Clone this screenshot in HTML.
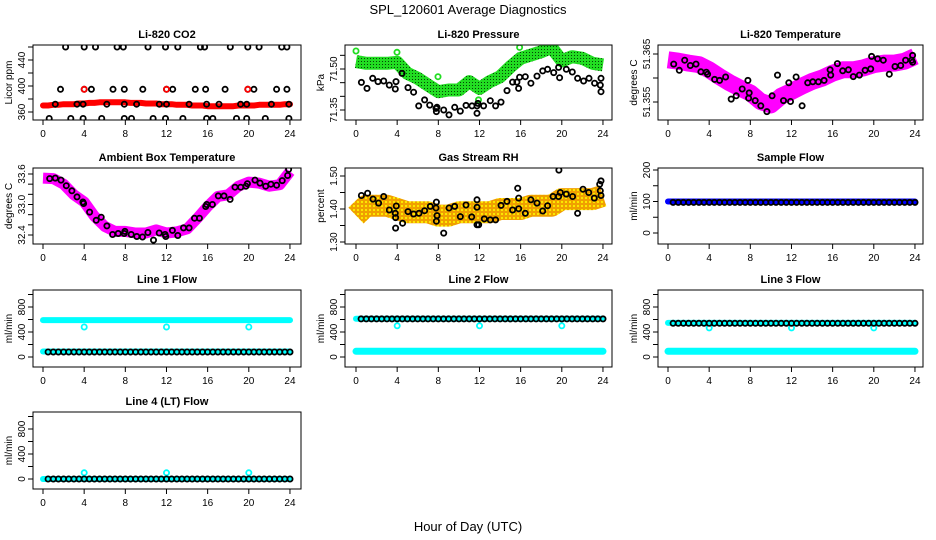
<!DOCTYPE html>
<html><head><meta charset="utf-8"><style>
html,body{margin:0;padding:0;background:#fff;}
svg{display:block;font-family:"Liberation Sans",Arial,sans-serif;}
</style></head><body>
<svg id="chart" width="936" height="540" viewBox="0 0 936 540" xmlns="http://www.w3.org/2000/svg">
<defs>
<pattern id="oyPat" width="4" height="4" patternUnits="userSpaceOnUse"><rect width="4" height="4" fill="#f0a000"/><circle cx="2" cy="2" r="1" fill="#ffff00"/></pattern>
<pattern id="gPat" width="3" height="3" patternUnits="userSpaceOnUse"><rect width="3" height="3" fill="#22dd22"/><rect x="1" y="1" width="1" height="1" fill="#064406"/></pattern>
</defs>
<text x="468" y="14" font-size="13" text-anchor="middle">SPL_120601  Average Diagnostics</text>
<text x="468" y="531" font-size="13" text-anchor="middle">Hour of Day (UTC)</text>
<g id="plots"></g>
</svg>
<script>
// ---------- data ----------
const xTicks=[0,4,8,12,16,20,24];
const halfHours=[0.5,1,1.5,2,2.5,3,3.5,4,4.5,5,5.5,6,6.5,7,7.5,8,8.5,9,9.5,10,10.5,11,11.5,12,12.5,13,13.5,14,14.5,15,15.5,16,16.5,17,17.5,18,18.5,19,19.5,20,20.5,21,21.5,22,22.5,23,23.5,24];
const bandHours=[0,0.5,1,1.5,2,2.5,3,3.5,4,4.5,5,5.5,6,6.5,7,7.5,8,8.5,9,9.5,10,10.5,11,11.5,12,12.5,13,13.5,14,14.5,15,15.5,16,16.5,17,17.5,18,18.5,19,19.5,20,20.5,21,21.5,22,22.5,23,23.5,24];
const hourly=[0,1,2,3,4,5,6,7,8,9,10,11,12,13,14,15,16,17,18,19,20,21,22,23,24];
const dipHours=[4,12,20];
const spanHours=[0,24];

// CO2
const co2Red=[370,370,371,371,372,372,372,373,373,374,374,375,375,375,375,375,375,374,374,374,373,373,373,372,372,372,371,371,371,370,370,370,369,369,369,369,369,369,370,370,370,370,371,371,371,371,371,372,372];
const co2BlackHours=[2.2,4.0,5.1,7.2,7.8,10.2,11.9,13.1,15.3,15.7,18.2,19.9,21.0,23.2,23.7, 1.7,4.0,4.7,6.8,7.9,9.7,12.0,12.6,14.8,15.8,17.7,19.9,20.5,22.7,23.7, 0.6,2.7,3.9,5.7,7.9,8.6,10.7,11.9,13.6,15.9,16.5,18.8,19.8,21.6,23.9, 1.2,3.3,3.9,6.2,7.9,9.1,11.3,12.0,14.2,15.9,17.1,19.2,19.8,22.2,23.9];
const co2BlackVals=[460,460,460,460,460,460,460,460,460,460,460,460,460,460,460, 395,395,395,395,395,395,395,395,395,395,395,395,395,395,395, 350,350,350,350,350,350,350,350,350,350,350,350,350,350,350, 372,372,372,372,372,372,372,372,372,372,372,372,372,372,372];
const co2RedPtHours=[4.0,12.0,19.9];
const co2RedPtVals=[395,395,395];

// Pressure
const presGreen=[71.527,71.521,71.521,71.521,71.524,71.484,71.466,71.441,71.417,71.423,71.423,71.454,71.429,71.454,71.472,71.508,71.539,71.551,71.563,71.579,71.530,71.545,71.539,71.521,71.515];
const presGreenPtHours=[0,3.98,7.97,15.9,11.9];
const presGreenPtVals=[71.566,71.561,71.472,71.579,71.387];
const presBlackHours=[0.52,1.07,1.62,2.14,2.69,3.24,3.82,3.89,4.47,5.05,5.6,6.09,6.67,7.16,7.77,7.81,7.87,8.52,9.04,9.59,10.14,10.69,11.27,11.76,11.76,11.85,12.4,13.05,13.57,14.09,14.67,15.22,15.64,15.8,15.9,16.45,17.0,17.59,18.14,18.62,19.21,19.69,19.79,20.44,21.02,21.54,22.12,22.64,23.19,23.74,23.81,23.81];
const presBlackVals=[71.451,71.429,71.466,71.454,71.456,71.441,71.427,71.454,71.484,71.432,71.415,71.365,71.387,71.368,71.356,71.344,71.360,71.350,71.332,71.360,71.346,71.367,71.365,71.365,71.338,71.374,71.365,71.384,71.365,71.379,71.421,71.452,71.452,71.429,71.470,71.472,71.448,71.474,71.493,71.499,71.487,71.506,71.468,71.499,71.489,71.466,71.456,71.466,71.448,71.441,71.466,71.417];

// Li-820 temperature
const ltMag=[51.3638,51.3635,51.3631,51.3628,51.3617,51.3603,51.3590,51.3579,51.3569,51.3551,51.3544,51.3562,51.3572,51.3583,51.3593,51.3600,51.3610,51.3617,51.3617,51.3621,51.3628,51.3631,51.3631,51.3635,51.3645];
const ltBlackHours=[0.55,1.10,1.62,2.17,2.72,3.20,3.72,3.85,4.53,5.01,5.60,6.14,6.63,7.21,7.76,7.83,7.89,8.47,9.02,9.61,10.12,10.64,11.22,11.74,11.90,12.45,13.03,13.58,14.07,14.62,15.17,15.75,15.81,16.46,16.98,17.53,18.01,18.60,19.15,19.70,19.79,20.37,20.92,21.51,22.06,22.61,23.09,23.67,23.77,23.77];
const ltBlackVals=[51.3629,51.3616,51.3637,51.3626,51.3629,51.3613,51.3612,51.3608,51.3597,51.3595,51.3602,51.3556,51.3563,51.3577,51.3595,51.3558,51.3569,51.3553,51.3542,51.3530,51.3563,51.3606,51.3553,51.3590,51.3551,51.3602,51.3542,51.3590,51.3592,51.3592,51.3595,51.3617,51.3606,51.3630,51.3615,51.3617,51.3603,51.3606,51.3616,51.3619,51.3645,51.3640,51.3637,51.3608,51.3624,51.3626,51.3637,51.3637,51.3647,51.3633];

// Ambient box temperature
const abMag=[33.52,33.51,33.40,33.19,33.05,32.77,32.57,32.47,32.47,32.44,32.44,32.50,32.44,32.46,32.52,32.73,32.96,33.16,33.19,33.36,33.44,33.42,33.36,33.39,33.65];
const abBlackHours=[0.65,1.20,1.75,2.26,2.81,3.30,3.88,3.95,4.53,5.17,5.66,6.21,6.76,7.31,7.89,7.96,8.57,9.12,9.67,10.19,10.74,11.29,11.87,11.93,12.58,13.10,13.65,14.20,14.72,15.20,15.81,15.91,16.46,17.04,17.59,18.18,18.66,19.21,19.73,19.86,20.60,21.09,21.64,22.15,22.70,23.25,23.77,23.87];
const abBlackVals=[33.51,33.52,33.48,33.37,33.27,33.15,33.05,33.02,32.85,32.69,32.75,32.58,32.41,32.43,32.43,32.47,32.41,32.37,32.36,32.45,32.30,32.44,32.41,32.37,32.49,32.39,32.54,32.54,32.73,32.73,32.96,33.00,33.00,33.17,33.17,33.10,33.34,33.34,33.36,33.41,33.48,33.42,33.36,33.40,33.38,33.47,33.57,33.69];

// Gas stream RH
const rhBand=[1.38,1.41,1.41,1.41,1.40,1.39,1.39,1.39,1.38,1.38,1.39,1.39,1.39,1.39,1.40,1.40,1.40,1.41,1.41,1.41,1.43,1.43,1.43,1.43,1.44];
const rhBlackHours=[0.52,1.13,1.65,2.20,2.69,3.24,3.82,3.85,3.92,3.85,4.53,5.05,5.60,6.12,6.67,7.22,7.77,7.81,7.87,7.81,8.52,9.04,9.59,10.14,10.69,11.24,11.76,11.76,11.76,11.92,12.47,13.05,13.57,14.09,14.67,15.22,15.71,15.81,15.81,16.45,17.0,17.59,18.14,18.62,19.14,19.69,19.72,19.85,20.44,21.05,21.54,22.06,22.61,23.16,23.68,23.81,23.74,23.81];
const rhBlackVals=[1.441,1.448,1.430,1.418,1.438,1.397,1.387,1.374,1.409,1.342,1.357,1.392,1.385,1.387,1.395,1.408,1.403,1.421,1.380,1.363,1.327,1.403,1.408,1.377,1.412,1.376,1.405,1.428,1.352,1.352,1.370,1.367,1.367,1.411,1.423,1.397,1.463,1.433,1.401,1.387,1.428,1.418,1.394,1.410,1.438,1.438,1.518,1.450,1.445,1.438,1.387,1.460,1.450,1.433,1.475,1.485,1.455,1.441];

// Flows
const sfBlue=[100,100];
const sfBlack=[97,97,97,97,97,97,97,97,97,97,97,97,97,97,97,97,97,97,97,97,97,97,97,97,97,97,97,97,97,97,97,97,97,97,97,97,97,97,97,97,97,97,97,97,97,97,97,97];
const l1CyanHigh=[590,590];
const l1CyanLow=[88,88];
const l1Dips=[480,480,480];
const l1Black=[80,80,80,80,80,80,80,80,80,80,80,80,80,80,80,80,80,80,80,80,80,80,80,80,80,80,80,80,80,80,80,80,80,80,80,80,80,80,80,80,80,80,80,80,80,80,80,80];
const l2CyanHigh=[612,612];
const l2CyanLow=[92,92];
const l2Dips=[500,500,500];
const l2Black=[610,610,610,610,610,610,610,610,610,610,610,610,610,610,610,610,610,610,610,610,610,610,610,610,610,610,610,610,610,610,610,610,610,610,610,610,610,610,610,610,610,610,610,610,610,610,610,610];
const l3CyanHigh=[545,545];
const l3CyanLow=[92,92];
const l3Dips=[465,465,465];
const l3Black=[540,540,540,540,540,540,540,540,540,540,540,540,540,540,540,540,540,540,540,540,540,540,540,540,540,540,540,540,540,540,540,540,540,540,540,540,540,540,540,540,540,540,540,540,540,540,540,540];
const l4CyanLow=[0,0];
const l4Peaks=[100,100,100];
const l4Black=[0,0,0,0,0,0,0,0,0,0,0,0,0,0,0,0,0,0,0,0,0,0,0,0,0,0,0,0,0,0,0,0,0,0,0,0,0,0,0,0,0,0,0,0,0,0,0,0];

// ---------- drawing ----------
const NS='http://www.w3.org/2000/svg';
const root=document.getElementById('plots');
const colZero=[43,356,668], colBox=[[33,301],[345,612],[658,923]];
const rowBox=[[45,120],[168,244],[290,367],[412,489]];
const PXH=10.29;
function mk(tag,attrs,parent){const e=document.createElementNS(NS,tag);for(const k in attrs)e.setAttribute(k,attrs[k]);(parent||root).appendChild(e);return e;}

function panel(p){
  const g=mk('g',{});
  
  
  const [bx0,bx1]=colBox[p.col],[by0,by1]=rowBox[p.row];
  const X=h=>colZero[p.col]+h*PXH;
  const Y=v=>p.p1+(v-p.v1)*(p.p2-p.p1)/(p.v2-p.v1);
  const clip='clip-'+p.name;
  const cp=mk('clipPath',{id:clip},g);mk('rect',{x:bx0,y:by0,width:bx1-bx0,height:by1-by0},cp);
  const data=mk('g',{'clip-path':'url(#'+clip+')'},g);
  p.layers.forEach(L=>{
    if(L.type==='band'){
      const pts=L.hours.map((h,i)=>X(h).toFixed(1)+','+Y(L.vals[i]).toFixed(1)).join(' ');
      const pl=mk('polyline',{points:pts,fill:'none',stroke:L.color,'stroke-width':L.w,'stroke-linecap':L.w>10?'butt':'round','stroke-linejoin':'round'},data);
      
      
    } else {
      L.hours.forEach((h,i)=>{
        const c=mk('circle',{cx:X(h).toFixed(1),cy:Y(L.vals[i]).toFixed(1),r:L.r||2.6,fill:'none',stroke:L.color,'stroke-width':L.sw||1.8},data);
        
        
      });
    }
  });
  const box=mk('rect',{x:bx0,y:by0,width:bx1-bx0,height:by1-by0,fill:'none',stroke:'#000','stroke-width':1},g);
  
  
  xTicks.forEach(t=>{
    mk('line',{x1:X(t),x2:X(t),y1:by1,y2:by1+5,stroke:'#000'},g);
    const tx=mk('text',{x:X(t),y:by1+17,'font-size':10,'text-anchor':'middle'},g);tx.textContent=t;
    
    
  });
  p.ticks.forEach(t=>{mk('line',{x1:bx0-5,x2:bx0,y1:Y(t),y2:Y(t),stroke:'#000'},g);});
  p.labels.forEach(t=>{
    const y=Y(t),x=bx0-8;
    const tx=mk('text',{x:x,y:y,'font-size':10,'text-anchor':'middle',transform:'rotate(-90 '+x+' '+y+')'},g);tx.textContent=p.fmt?t.toFixed(p.fmt):t;
    
    
  });
  const yt=mk('text',{x:bx0-21,y:(by0+by1)/2,'font-size':10,'text-anchor':'middle',transform:'rotate(-90 '+(bx0-21)+' '+((by0+by1)/2)+')'},g);
  yt.textContent=p.ylab;
  
  
  const tt=mk('text',{x:(bx0+bx1)/2,y:by0-7,'font-size':11,'font-weight':'bold','text-anchor':'middle'},g);
  tt.textContent=p.title;
  
  
}

const flowTicks=[0,200,400,600,800,1000], flowLabels=[0,400,800];
panel({name:'co2-panel',col:0,row:0,title:'Li-820 CO2',ylab:'Licor ppm',v1:360,p1:112,v2:440,p2:60,ticks:[360,380,400,420,440,460],labels:[360,400,440],
  layers:[{type:'band',name:'co2-red-series',hours:bandHours,vals:co2Red,color:'#ff0000',w:6},
          {type:'pts',name:'co2-black-point',hours:co2BlackHours,vals:co2BlackVals,color:'#000'},
          {type:'pts',name:'co2-red-point',hours:co2RedPtHours,vals:co2RedPtVals,color:'#ff0000'}]});
panel({name:'pressure-panel',col:1,row:0,title:'Li-820 Pressure',ylab:'kPa',v1:71.35,p1:110,v2:71.50,p2:69,ticks:[71.35,71.40,71.45,71.50,71.55],labels:[71.35,71.50],fmt:2,
  layers:[{type:'band',name:'pressure-green-series',hours:hourly,vals:presGreen,color:'url(#gPat)',w:13},
          {type:'pts',name:'pressure-green-point',hours:presGreenPtHours,vals:presGreenPtVals,color:'#22dd22'},
          {type:'pts',name:'pressure-black-point',hours:presBlackHours,vals:presBlackVals,color:'#000'}]});
panel({name:'li820-temp-panel',col:2,row:0,title:'Li-820 Temperature',ylab:'degrees C',v1:51.355,p1:102,v2:51.365,p2:54,ticks:[51.355,51.360,51.365],labels:[51.355,51.365],fmt:3,
  layers:[{type:'band',name:'li820-temp-magenta-series',hours:hourly,vals:ltMag,color:'#ff00ff',w:17},
          {type:'pts',name:'li820-temp-black-point',hours:ltBlackHours,vals:ltBlackVals,color:'#000'}]});
panel({name:'ambient-temp-panel',col:0,row:1,title:'Ambient Box Temperature',ylab:'degrees C',v1:32.4,p1:235,v2:33.6,p2:174,ticks:[32.4,32.6,32.8,33.0,33.2,33.4,33.6],labels:[32.4,33.0,33.6],fmt:1,
  layers:[{type:'band',name:'ambient-magenta-series',hours:hourly,vals:abMag,color:'#ff00ff',w:11},
          {type:'pts',name:'ambient-black-point',hours:abBlackHours,vals:abBlackVals,color:'#000'}]});
panel({name:'rh-panel',col:1,row:1,title:'Gas Stream RH',ylab:'percent',v1:1.30,p1:242,v2:1.50,p2:176,ticks:[1.30,1.35,1.40,1.45,1.50],labels:[1.30,1.40,1.50],fmt:2,
  layers:[{type:'band',name:'rh-orange-series',hours:hourly,vals:rhBand,color:'url(#oyPat)',w:22},
          {type:'pts',name:'rh-black-point',hours:rhBlackHours,vals:rhBlackVals,color:'#000'}]});
panel({name:'sample-flow-panel',col:2,row:1,title:'Sample Flow',ylab:'ml/min',v1:0,p1:233,v2:200,p2:170,ticks:[0,50,100,150,200],labels:[0,100,200],
  layers:[{type:'band',name:'sample-flow-blue-series',hours:spanHours,vals:sfBlue,color:'#0000ff',w:6},
          {type:'pts',name:'sample-flow-black-point',hours:halfHours,vals:sfBlack,color:'#000'}]});
panel({name:'line1-flow-panel',col:0,row:2,title:'Line 1 Flow',ylab:'ml/min',v1:0,p1:357,v2:800,p2:307,ticks:flowTicks,labels:flowLabels,
  layers:[{type:'band',name:'line1-cyan-high',hours:spanHours,vals:l1CyanHigh,color:'#00ffff',w:6},
          {type:'band',name:'line1-cyan-low',hours:spanHours,vals:l1CyanLow,color:'#00ffff',w:6},
          {type:'pts',name:'line1-cyan-dip',hours:dipHours,vals:l1Dips,color:'#00ffff'},
          {type:'pts',name:'line1-black-point',hours:halfHours,vals:l1Black,color:'#000'}]});
panel({name:'line2-flow-panel',col:1,row:2,title:'Line 2 Flow',ylab:'ml/min',v1:0,p1:357,v2:800,p2:307,ticks:flowTicks,labels:flowLabels,
  layers:[{type:'band',name:'line2-cyan-high',hours:spanHours,vals:l2CyanHigh,color:'#00ffff',w:6},
          {type:'band',name:'line2-cyan-low',hours:spanHours,vals:l2CyanLow,color:'#00ffff',w:7},
          {type:'pts',name:'line2-cyan-dip',hours:dipHours,vals:l2Dips,color:'#00ffff'},
          {type:'pts',name:'line2-black-point',hours:halfHours,vals:l2Black,color:'#000'}]});
panel({name:'line3-flow-panel',col:2,row:2,title:'Line 3 Flow',ylab:'ml/min',v1:0,p1:357,v2:800,p2:307,ticks:flowTicks,labels:flowLabels,
  layers:[{type:'band',name:'line3-cyan-high',hours:spanHours,vals:l3CyanHigh,color:'#00ffff',w:6},
          {type:'band',name:'line3-cyan-low',hours:spanHours,vals:l3CyanLow,color:'#00ffff',w:7},
          {type:'pts',name:'line3-cyan-dip',hours:dipHours,vals:l3Dips,color:'#00ffff'},
          {type:'pts',name:'line3-black-point',hours:halfHours,vals:l3Black,color:'#000'}]});
panel({name:'line4-flow-panel',col:0,row:3,title:'Line 4 (LT) Flow',ylab:'ml/min',v1:0,p1:479,v2:800,p2:429,ticks:flowTicks,labels:flowLabels,
  layers:[{type:'band',name:'line4-cyan-low',hours:spanHours,vals:l4CyanLow,color:'#00ffff',w:6},
          {type:'pts',name:'line4-cyan-peak',hours:dipHours,vals:l4Peaks,color:'#00ffff'},
          {type:'pts',name:'line4-black-point',hours:halfHours,vals:l4Black,color:'#000'}]});
</script>
</body></html>
